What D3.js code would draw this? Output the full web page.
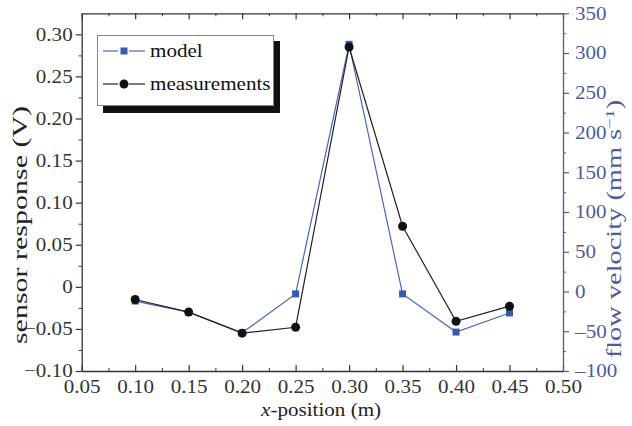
<!DOCTYPE html>
<html><head><meta charset="utf-8">
<script src="https://cdn.jsdelivr.net/npm/d3@7"></script>
<style>body{margin:0;background:#fff}svg{display:block}text{font-family:"Liberation Serif","Times New Roman",serif}</style>
</head><body><svg id="c" width="632" height="426"></svg>
<script>
const xPos = [0.10,0.15,0.20,0.25,0.30,0.35,0.40,0.45];
const measurements = [-0.015,-0.030,-0.055,-0.048,0.285,0.072,-0.041,-0.023];
const model = [-12,-26,-52,-3,311,-3,-51,-27];
const xTicks = [0.05,0.10,0.15,0.20,0.25,0.30,0.35,0.40,0.45,0.50];
const leftTicks = [-0.10,-0.05,0,0.05,0.10,0.15,0.20,0.25,0.30];
const rightTicks = [-100,-50,0,50,100,150,200,250,300,350];

const svg = d3.select("#c");
const L=81.7,R=563,T=13.3,B=371;
const blue="#3b5aab", blueAxis="#4b5b9e", blueLine="#4466bb";
const fs=18.5, SX=1.14;
const x=d3.scaleLinear().domain([0.05,0.5]).range([L,R]);
const yl=d3.scaleLinear().domain([-0.1,0.325]).range([B,T]);
const yr=d3.scaleLinear().domain([-100,350]).range([B,T]);
const fmt2=v=>v===0?"0":(v<0?"\u2212":"")+Math.abs(v).toFixed(2);
const fmtR=v=>v<0?"\u2013"+Math.abs(v):""+v;

function stretch(sel,origin){
  sel.style("transform-box","fill-box").style("transform-origin",origin).style("transform",`scaleX(${SX})`);
}
function styleAxis(g,color){
  g.select(".domain").attr("stroke",color).attr("stroke-width",1.3);
  g.selectAll(".tick line").attr("stroke",color).attr("stroke-width",1.2);
  g.selectAll("text").attr("fill",color).style("font-size",fs+"px").style("font-family","Liberation Serif");
}
const xMinor=d3.range(0.075,0.5,0.05);
const lMinor=d3.range(-0.075,0.325,0.05);
const rMinor=d3.range(-75,350,50);

// bottom axis (ticks inside)
const gb=svg.append("g").attr("transform",`translate(0,${B})`)
 .call(d3.axisBottom(x).tickValues(xTicks).tickFormat(d=>d.toFixed(2)).tickSizeInner(-6).tickSizeOuter(0).tickPadding(9));
styleAxis(gb,"#333");
stretch(gb.selectAll(".tick text"),"center");
svg.append("g").attr("transform",`translate(0,${B})`)
 .call(d3.axisBottom(x).tickValues(xMinor).tickFormat("").tickSizeInner(-3).tickSizeOuter(0))
 .call(g=>{g.select(".domain").remove();g.selectAll("line").attr("stroke","#333");});
// top axis (ticks inside)
const gt=svg.append("g").attr("transform",`translate(0,${T})`)
 .call(d3.axisTop(x).tickValues(xTicks).tickFormat("").tickSizeInner(-6).tickSizeOuter(0));
styleAxis(gt,"#333");
svg.append("g").attr("transform",`translate(0,${T})`)
 .call(d3.axisTop(x).tickValues(xMinor).tickFormat("").tickSizeInner(-3).tickSizeOuter(0))
 .call(g=>{g.select(".domain").remove();g.selectAll("line").attr("stroke","#333");});
// left axis (outside)
const gl=svg.append("g").attr("transform",`translate(${L},0)`)
 .call(d3.axisLeft(yl).tickValues(leftTicks).tickFormat(fmt2).tickSizeInner(6).tickSizeOuter(0).tickPadding(3));
styleAxis(gl,"#333");
stretch(gl.selectAll(".tick text"),"right");
svg.append("g").attr("transform",`translate(${L},0)`)
 .call(d3.axisLeft(yl).tickValues(lMinor).tickFormat("").tickSizeInner(3).tickSizeOuter(0))
 .call(g=>{g.select(".domain").remove();g.selectAll("line").attr("stroke","#333");});
// right axis (outside)
const gr=svg.append("g").attr("transform",`translate(${R},0)`)
 .call(d3.axisRight(yr).tickValues(rightTicks).tickFormat(fmtR).tickSizeInner(6).tickSizeOuter(0).tickPadding(6));
styleAxis(gr,blueAxis);
stretch(gr.selectAll(".tick text"),"left");
svg.append("g").attr("transform",`translate(${R},0)`)
 .call(d3.axisRight(yr).tickValues(rMinor).tickFormat("").tickSizeInner(3).tickSizeOuter(0))
 .call(g=>{g.select(".domain").remove();g.selectAll("line").attr("stroke",blueAxis);});

// titles
const xt=svg.append("text").attr("x",321).attr("y",416).attr("text-anchor","middle").style("font-size",fs+"px").attr("fill","#222")
 .html('<tspan font-style="italic">x</tspan>-position (m)');
stretch(xt,"center");
svg.append("text").attr("transform","translate(27,225) rotate(-90) scale(1.5,1)").attr("text-anchor","middle").style("font-size","20px").attr("fill","#222")
 .text("sensor response (V)");
svg.append("text").attr("transform","translate(621,229) rotate(-90) scale(1.42,1)").attr("text-anchor","middle").style("font-size","20px").attr("fill",blueAxis)
 .html('flow velocity (mm s<tspan dy="-7" font-size="13">\u22121</tspan><tspan dy="7">)</tspan>');

// lines
const lineM=d3.line().x((d,i)=>x(xPos[i])).y(d=>yl(d));
const lineB=d3.line().x((d,i)=>x(xPos[i])).y(d=>yr(d));
svg.append("path").datum(model).attr("d",lineB).attr("fill","none").attr("stroke",blueLine).attr("stroke-width",1.2);
svg.append("path").datum(measurements).attr("d",lineM).attr("fill","none").attr("stroke","#222").attr("stroke-width",1.2);
svg.selectAll(".sq").data(model).enter().append("rect")
 .attr("x",(d,i)=>x(xPos[i])-3.5).attr("y",d=>yr(d)-3.5).attr("width",7).attr("height",7).attr("fill",blue);
svg.selectAll(".ci").data(measurements).enter().append("circle")
 .attr("cx",(d,i)=>x(xPos[i])).attr("cy",d=>yl(d)).attr("r",4.5).attr("fill","#111");

// legend
svg.append("rect").attr("x",103).attr("y",41).attr("width",177).attr("height",72).attr("fill","#111");
svg.append("rect").attr("x",97.5).attr("y",35.5).attr("width",176).attr("height",70).attr("fill","#fff").attr("stroke","#888").attr("stroke-width",1);
svg.append("line").attr("x1",103).attr("x2",118).attr("y1",51).attr("y2",51).attr("stroke",blueLine).attr("stroke-width",1.2);
svg.append("line").attr("x1",129).attr("x2",145).attr("y1",51).attr("y2",51).attr("stroke",blueLine).attr("stroke-width",1.2);
svg.append("rect").attr("x",120.5).attr("y",47.5).attr("width",7).attr("height",7).attr("fill",blue);
const t1=svg.append("text").attr("x",150).attr("y",57).style("font-size",fs+"px").attr("fill","#111").text("model");
svg.append("line").attr("x1",103).attr("x2",118).attr("y1",84).attr("y2",84).attr("stroke","#222").attr("stroke-width",1.2);
svg.append("line").attr("x1",129).attr("x2",145).attr("y1",84).attr("y2",84).attr("stroke","#222").attr("stroke-width",1.2);
svg.append("circle").attr("cx",124).attr("cy",84).attr("r",4.5).attr("fill","#111");
const t2=svg.append("text").attr("x",150).attr("y",90).style("font-size",fs+"px").attr("fill","#111").text("measurements");
stretch(t1,"left"); stretch(t2,"left");
</script></body></html>
